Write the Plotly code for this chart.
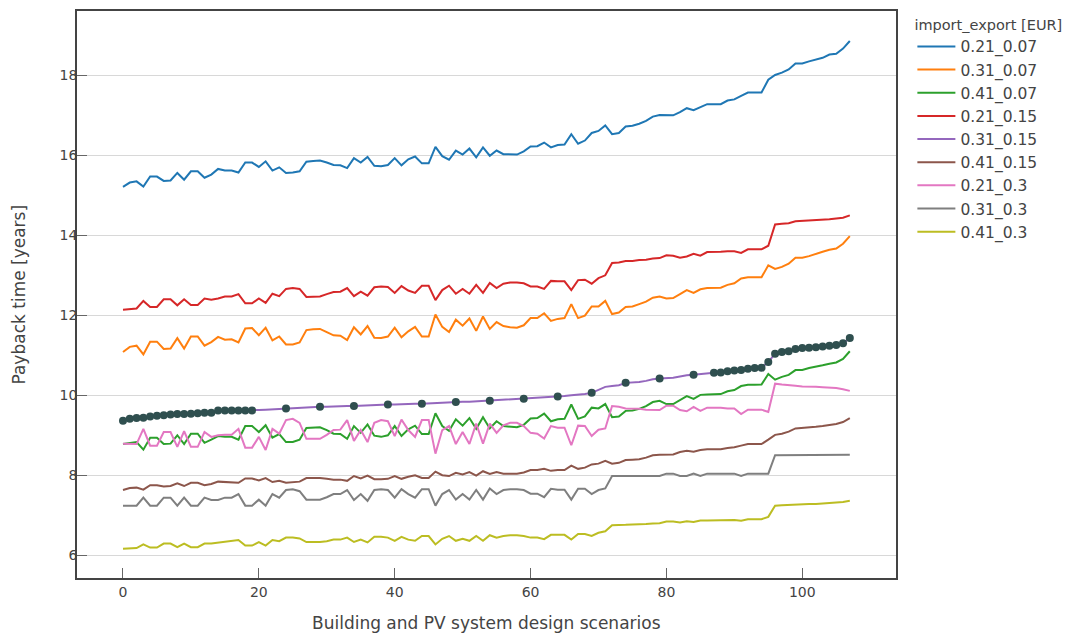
import plotly.graph_objects as go

scenarios = list(range(108))

series_names = ["0.21_0.07", "0.31_0.07", "0.41_0.07", "0.21_0.15", "0.31_0.15",
                "0.41_0.15", "0.21_0.3", "0.31_0.3", "0.41_0.3"]

s_021_007 = [15.21, 15.32, 15.35, 15.22, 15.47, 15.47, 15.36, 15.37, 15.56, 15.39,
             15.6, 15.6, 15.44, 15.52, 15.66, 15.62, 15.62, 15.57, 15.82, 15.82,
             15.71, 15.85, 15.62, 15.7, 15.56, 15.57, 15.6, 15.84, 15.86, 15.87,
             15.82, 15.76, 15.75, 15.68, 15.93, 15.82, 15.96, 15.74, 15.73, 15.76,
             15.93, 15.75, 15.9, 15.97, 15.8, 15.8, 16.21, 15.98, 15.89, 16.12,
             16.02, 16.17, 15.95, 16.2, 15.99, 16.12, 16.03, 16.02, 16.02, 16.1,
             16.22, 16.23, 16.32, 16.2, 16.26, 16.27, 16.53, 16.29, 16.37, 16.56,
             16.61, 16.75, 16.53, 16.56, 16.72, 16.74, 16.79, 16.86, 16.97, 17.01,
             17.0, 17.0, 17.08, 17.18, 17.13, 17.21, 17.28, 17.28, 17.28, 17.37,
             17.4, 17.49, 17.57, 17.57, 17.57, 17.89, 18.01, 18.07, 18.15, 18.3,
             18.3, 18.35, 18.4, 18.44, 18.52, 18.54, 18.67, 18.86]

s_031_007 = [11.08, 11.21, 11.24, 11.02, 11.34, 11.34, 11.16, 11.17, 11.43, 11.17,
             11.47, 11.47, 11.24, 11.33, 11.46, 11.39, 11.4, 11.32, 11.67, 11.68,
             11.5, 11.69, 11.37, 11.47, 11.27, 11.27, 11.32, 11.63, 11.65, 11.66,
             11.58, 11.5, 11.49, 11.38, 11.7, 11.52, 11.73, 11.44, 11.43, 11.47,
             11.69, 11.45, 11.6, 11.71, 11.47, 11.47, 12.02, 11.71, 11.58, 11.89,
             11.74, 11.92, 11.61, 11.97, 11.66, 11.83, 11.73, 11.7, 11.69, 11.75,
             11.93, 11.93, 12.05, 11.86, 11.91, 11.93, 12.28, 11.93, 11.99, 12.22,
             12.22, 12.36, 12.03, 12.07, 12.21, 12.22, 12.28, 12.34, 12.44, 12.47,
             12.42, 12.43, 12.53, 12.63, 12.56, 12.65, 12.68, 12.68, 12.69, 12.76,
             12.8, 12.92, 12.95, 12.95, 12.95, 13.25, 13.16, 13.21, 13.29, 13.44,
             13.44, 13.48, 13.54, 13.59, 13.64, 13.67, 13.79, 13.98]

s_041_007 = [8.78, 8.81, 8.83, 8.64, 8.94, 8.94, 8.78, 8.79, 9.0, 8.78,
             9.04, 9.04, 8.81, 8.89, 8.98, 8.96, 8.96, 8.89, 9.23, 9.23,
             9.08, 9.25, 8.94, 9.03, 8.83, 8.83, 8.89, 9.18, 9.19, 9.2,
             9.13, 9.04, 9.03, 8.91, 9.23, 9.06, 9.27, 8.99, 8.96, 9.0,
             9.23, 8.98, 9.15, 9.24, 9.03, 9.03, 9.55, 9.23, 9.11, 9.4,
             9.24, 9.43, 9.16, 9.45, 9.17, 9.35, 9.23, 9.22, 9.2, 9.26,
             9.42, 9.43, 9.54, 9.35, 9.4, 9.41, 9.77, 9.41, 9.47, 9.69,
             9.67, 9.78, 9.45, 9.47, 9.61, 9.62, 9.66, 9.73, 9.83, 9.86,
             9.78, 9.78, 9.88, 9.98, 9.91, 10.01, 10.02, 10.02, 10.03, 10.1,
             10.13, 10.23, 10.26, 10.26, 10.27, 10.53, 10.39, 10.46, 10.51, 10.63,
             10.63, 10.68, 10.71, 10.75, 10.79, 10.82, 10.91, 11.1]

s_021_015 = [12.14, 12.16, 12.17, 12.36, 12.21, 12.21, 12.4, 12.4, 12.25, 12.4,
             12.26, 12.26, 12.42, 12.39, 12.42, 12.47, 12.47, 12.53, 12.3, 12.3,
             12.42, 12.31, 12.54, 12.48, 12.66, 12.68, 12.66, 12.46, 12.46, 12.47,
             12.53, 12.58, 12.59, 12.68, 12.48, 12.59, 12.49, 12.7, 12.72, 12.71,
             12.56, 12.73, 12.62, 12.56, 12.74, 12.74, 12.38, 12.63, 12.74, 12.54,
             12.66, 12.54, 12.76, 12.56, 12.81, 12.68, 12.79, 12.82, 12.82, 12.8,
             12.72, 12.72, 12.66, 12.86, 12.85, 12.85, 12.63, 12.88, 12.89, 12.79,
             12.93, 13.0, 13.31, 13.32, 13.36, 13.36, 13.38, 13.39, 13.42, 13.43,
             13.5, 13.49, 13.44, 13.47, 13.54, 13.49, 13.58, 13.58, 13.59, 13.6,
             13.6, 13.56, 13.65, 13.65, 13.65, 13.74, 14.27, 14.29, 14.3, 14.35,
             14.36, 14.36, 14.38, 14.39, 14.4, 14.42, 14.44, 14.5]

s_031_015 = [9.36, 9.41, 9.43, 9.44, 9.47, 9.49, 9.5, 9.52, 9.53, 9.53,
             9.54, 9.55, 9.56, 9.56, 9.62, 9.62, 9.62, 9.62, 9.62, 9.62,
             9.63, 9.64, 9.65, 9.66, 9.67, 9.68, 9.69, 9.7, 9.7, 9.71,
             9.71, 9.72, 9.72, 9.73, 9.73, 9.74, 9.75, 9.76, 9.76, 9.77,
             9.77, 9.78, 9.78, 9.79, 9.79, 9.8, 9.81, 9.82, 9.82, 9.83,
             9.84, 9.84, 9.85, 9.85, 9.86, 9.87, 9.88, 9.89, 9.9, 9.91,
             9.92, 9.93, 9.95, 9.96, 9.97, 9.98, 10.0, 10.01, 10.03, 10.06,
             10.14, 10.21, 10.23, 10.25, 10.31, 10.32, 10.33, 10.36, 10.4, 10.42,
             10.43, 10.44, 10.47, 10.5, 10.51, 10.53, 10.55, 10.56, 10.57, 10.6,
             10.62, 10.63, 10.66, 10.68, 10.69, 10.83, 11.04, 11.08, 11.1, 11.16,
             11.18, 11.19, 11.2, 11.22, 11.24, 11.26, 11.3, 11.43]

s_041_015 = [7.63, 7.68, 7.69, 7.64, 7.75, 7.75, 7.72, 7.73, 7.8, 7.73,
             7.81, 7.81, 7.75, 7.78, 7.84, 7.83, 7.83, 7.81, 7.92, 7.92,
             7.87, 7.93, 7.83, 7.86, 7.81, 7.82, 7.84, 7.93, 7.93, 7.93,
             7.91, 7.89, 7.89, 7.86, 7.98, 7.92, 7.99, 7.9, 7.9, 7.91,
             7.98, 7.91, 7.96, 8.0, 7.93, 7.93, 8.09, 8.0, 7.98, 8.06,
             8.02, 8.08, 7.99, 8.1, 8.03, 8.08, 8.04, 8.04, 8.04, 8.07,
             8.13, 8.13, 8.16, 8.11, 8.13, 8.13, 8.24, 8.16, 8.19, 8.27,
             8.29, 8.36, 8.29, 8.31, 8.38, 8.39, 8.4, 8.44, 8.5, 8.51,
             8.51, 8.52, 8.58, 8.61, 8.59, 8.63, 8.65, 8.65, 8.65, 8.68,
             8.7, 8.74, 8.78, 8.78, 8.78, 8.89, 9.01, 9.04, 9.09, 9.17,
             9.18, 9.19, 9.21, 9.23, 9.26, 9.28, 9.33, 9.43]

s_021_03 = [8.79, 8.78, 8.78, 9.16, 8.74, 8.74, 9.08, 9.08, 8.71, 9.1,
            8.71, 8.71, 9.08, 8.96, 9.0, 9.01, 9.01, 9.16, 8.69, 8.69,
            8.96, 8.63, 9.16, 9.04, 9.38, 9.41, 9.31, 8.91, 8.91, 8.91,
            9.01, 9.13, 9.14, 9.38, 8.86, 9.13, 8.83, 9.31, 9.38, 9.35,
            8.98, 9.39, 9.13, 8.96, 9.38, 9.38, 8.54, 9.13, 9.23, 8.78,
            9.08, 8.78, 9.29, 8.79, 9.29, 9.06, 9.25, 9.31, 9.31, 9.23,
            9.06, 9.04, 8.92, 9.23, 9.19, 9.19, 8.75, 9.24, 9.23, 8.98,
            9.14, 9.17, 9.73, 9.71, 9.67, 9.67, 9.66, 9.64, 9.63, 9.63,
            9.74, 9.74, 9.63, 9.6, 9.71, 9.61, 9.69, 9.69, 9.69, 9.67,
            9.67, 9.53, 9.64, 9.64, 9.64, 9.58, 10.29, 10.27, 10.26, 10.24,
            10.22, 10.22, 10.21, 10.2, 10.19, 10.18, 10.15, 10.11]

s_031_03 = [7.24, 7.24, 7.24, 7.44, 7.24, 7.24, 7.44, 7.44, 7.24, 7.44,
            7.24, 7.24, 7.44, 7.38, 7.38, 7.44, 7.44, 7.53, 7.24, 7.24,
            7.39, 7.24, 7.53, 7.44, 7.63, 7.65, 7.6, 7.39, 7.39, 7.39,
            7.45, 7.53, 7.53, 7.63, 7.38, 7.53, 7.36, 7.63, 7.65, 7.63,
            7.44, 7.65, 7.53, 7.44, 7.65, 7.65, 7.24, 7.53, 7.63, 7.39,
            7.53, 7.39, 7.63, 7.39, 7.67, 7.53, 7.63, 7.65, 7.65, 7.63,
            7.54, 7.54, 7.45, 7.66, 7.64, 7.64, 7.39, 7.66, 7.66, 7.53,
            7.63, 7.67, 7.98, 7.98, 7.98, 7.98, 7.98, 7.98, 7.98, 7.98,
            8.04, 8.04, 7.98, 7.98, 8.04, 7.98, 8.04, 8.04, 8.04, 8.04,
            8.04, 7.98, 8.04, 8.04, 8.04, 8.04, 8.5, 8.5, 8.5, 8.5,
            8.5, 8.5, 8.5, 8.5, 8.5, 8.5, 8.5, 8.51]

s_041_03 = [6.16, 6.17, 6.18, 6.27, 6.19, 6.19, 6.29, 6.29, 6.2, 6.29,
            6.2, 6.2, 6.29, 6.29, 6.31, 6.33, 6.35, 6.38, 6.24, 6.24,
            6.33, 6.24, 6.38, 6.35, 6.44, 6.44, 6.42, 6.33, 6.33, 6.33,
            6.35, 6.39, 6.39, 6.44, 6.33, 6.39, 6.32, 6.46, 6.46, 6.44,
            6.36, 6.46, 6.39, 6.36, 6.48, 6.48, 6.27, 6.41, 6.48, 6.36,
            6.41, 6.36, 6.48, 6.36, 6.5, 6.44, 6.48, 6.5, 6.5, 6.48,
            6.44, 6.44, 6.4, 6.51, 6.51, 6.51, 6.39, 6.53, 6.53, 6.48,
            6.56, 6.6, 6.75, 6.75, 6.76, 6.77, 6.77, 6.78, 6.79, 6.8,
            6.84, 6.84, 6.82, 6.85, 6.83, 6.87, 6.87, 6.87, 6.88, 6.88,
            6.88, 6.86, 6.9, 6.9, 6.9, 6.96, 7.24, 7.25, 7.26, 7.27,
            7.27, 7.28, 7.28, 7.29, 7.3, 7.31, 7.33, 7.36]

highlight_idx = list(range(0, 20)) + [24, 29, 34, 39, 44, 49, 54, 59, 64, 69, 74, 79, 84] + list(range(87, 108))

x_title = "Building and PV system design scenarios"
y_title = "Payback time [years]"
legend_title = "import_export [EUR]"

all_series = [s_021_007, s_031_007, s_041_007, s_021_015, s_031_015,
              s_041_015, s_021_03, s_031_03, s_041_03]
colors = ["#1f77b4", "#ff7f0e", "#2ca02c", "#d62728", "#9467bd",
          "#8c564b", "#e377c2", "#7f7f7f", "#bcbd22"]

fig = go.Figure()
for name, vals, col in zip(series_names, all_series, colors):
    fig.add_trace(go.Scatter(x=scenarios, y=vals, mode="lines", name=name,
                             line=dict(color=col, width=2)))

fig.add_trace(go.Scatter(x=highlight_idx, y=[s_031_015[i] for i in highlight_idx],
                         mode="markers", showlegend=False,
                         marker=dict(color="#2f4f4f", size=8)))

font_family = "Verdana, DejaVu Sans, sans-serif"
fig.update_layout(
    width=1073, height=636,
    template="none",
    paper_bgcolor="white", plot_bgcolor="white",
    font=dict(family=font_family, size=14, color="#444"),
    margin=dict(l=69, r=185, t=3, b=66),
    legend=dict(title=dict(text=legend_title, font=dict(size=14.5)),
                font=dict(size=15.5), x=1.02, y=1, xanchor="left", yanchor="top",
                itemwidth=38, bgcolor="rgba(0,0,0,0)"),
    xaxis=dict(range=[-6.77, 113.8], showgrid=False, zeroline=False,
               showline=True, linecolor="#444", linewidth=1.5, mirror=True,
               ticks="inside", ticklen=10, tickcolor="#666", tickwidth=1,
               tickvals=[0, 20, 40, 60, 80, 100]),
    yaxis=dict(range=[5.43, 19.61], showgrid=True, gridcolor="#d8d8d8", gridwidth=1,
               zeroline=False, showline=True, linecolor="#444", linewidth=1.5, mirror=True,
               ticks="inside", ticklen=10, tickcolor="#666", tickwidth=1,
               ticklabelstandoff=-5,
               tickvals=[6, 8, 10, 12, 14, 16, 18]),
    annotations=[
        dict(text=x_title, xref="paper", yref="paper", x=0.5, y=-0.079,
             xanchor="center", yanchor="middle", showarrow=False,
             font=dict(size=17, color="#444")),
        dict(text=y_title, xref="paper", yref="paper", x=-0.072, y=0.5,
             xanchor="center", yanchor="middle", textangle=-90, showarrow=False,
             font=dict(size=17, color="#444")),
    ],
)

fig.write_html("out.html")
